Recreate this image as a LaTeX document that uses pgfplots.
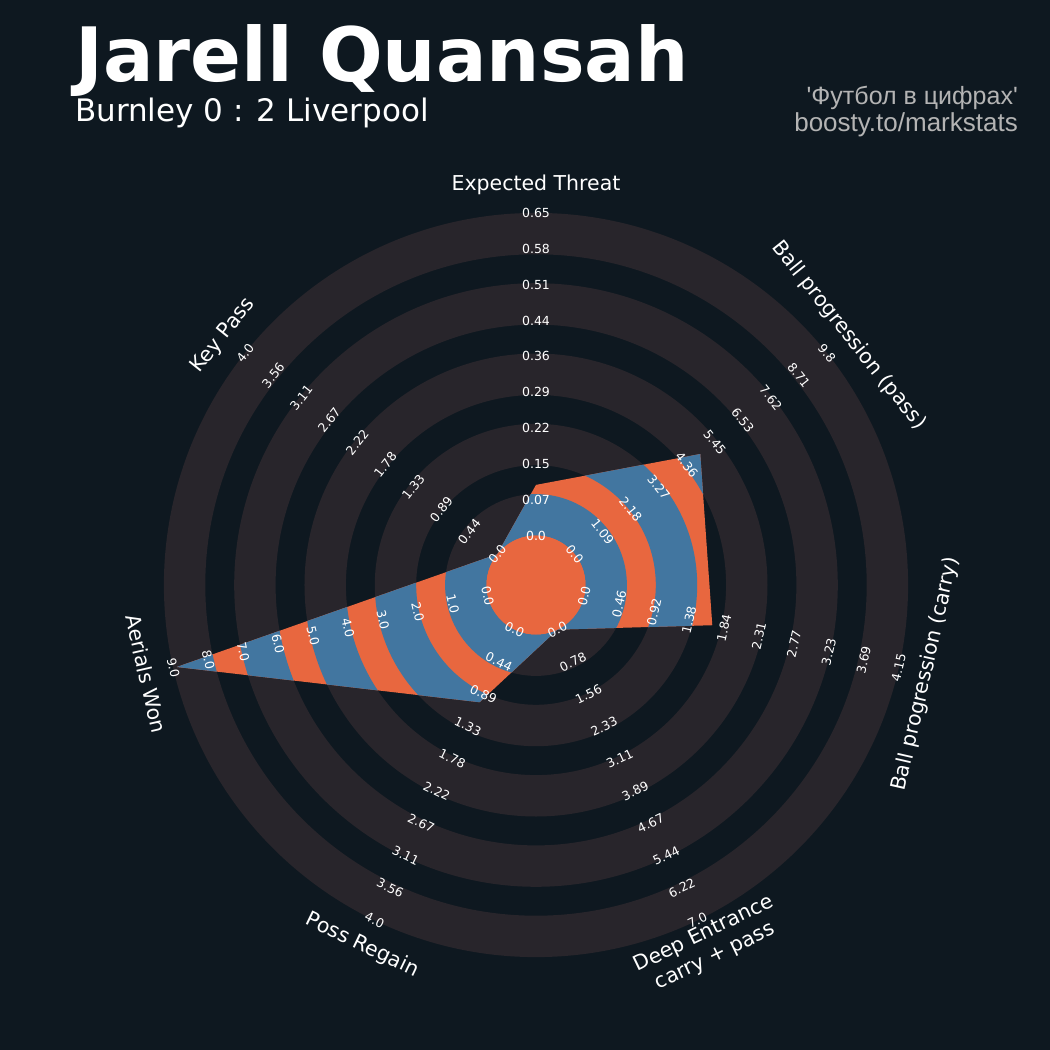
\documentclass[border=0pt]{standalone}
\usepackage{pgfplots}
\pgfplotsset{compat=1.18}
\usepackage{pgfplotstable}
\usepackage{fontspec}
\setmainfont{DejaVu Sans}
\newfontfamily\robo{Liberation Sans}
\definecolor{bgC}{HTML}{0E1820}
\definecolor{ringC}{HTML}{28252B}
\definecolor{orC}{HTML}{E8673F}
\definecolor{blC}{HTML}{4276A0}
\definecolor{grC}{HTML}{B4B4B4}

% angle (deg), value, range max (range min = 0)
\pgfplotstableread{
ang val hi
90 0.102 0.65
38.5714 4.88 9.8
-12.8571 1.69 4.15
-64.2857 0 7.0
-115.7143 1.0 4.0
-167.1429 8.9 9.0
-218.5714 0 4.0
}\radar

\pgfplotsset{radaraxis/.style={at={(0,0)}, anchor=origin, x=1pt, y=1pt, hide axis,
  xmin=-536, xmax=514, ymin=-465, ymax=585, clip=false, enlargelimits=false}}
\newcommand\radarplot[1]{%
\addplot[fill=#1, draw=none, mark=none]
  table[x expr={(49.5+\thisrow{val}/\thisrow{hi}*322.5)*cos(\thisrow{ang})},
        y expr={(49.5+\thisrow{val}/\thisrow{hi}*322.5)*sin(\thisrow{ang})}] {\radar};}
\newcommand\band[2]{(#2pt,0pt) arc[start angle=0,end angle=360,radius=#2pt] (#1pt,0pt) arc[start angle=0,end angle=-360,radius=#1pt]}

\begin{document}
\begin{tikzpicture}[x=1pt,y=1pt]
\fill[bgC] (-536,-465) rectangle (514,585);
\fill[ringC] \band{330.7}{372.1} \band{260.4}{301.8} \band{190.1}{231.5} \band{119.8}{161.2} \band{49.5}{90.9};
\begin{axis}[radaraxis]
\radarplot{orC}
\end{axis}
\begin{scope}
\clip \band{330.7}{372.1} \band{260.4}{301.8} \band{190.1}{231.5} \band{119.8}{161.2} \band{49.5}{90.9};
\begin{axis}[radaraxis]
\radarplot{blC}
\end{axis}
\end{scope}
\fill[orC] (0,0) circle[radius=49.5pt];

\foreach \ang/\rot/\labs in {
  90/0/{0.0,0.07,0.15,0.22,0.29,0.36,0.44,0.51,0.58,0.65},
  38.5714/-51.4286/{0.0,1.09,2.18,3.27,4.36,5.45,6.53,7.62,8.71,9.8},
  -12.8571/77.1429/{0.0,0.46,0.92,1.38,1.84,2.31,2.77,3.23,3.69,4.15},
  -64.2857/25.7143/{0.0,0.78,1.56,2.33,3.11,3.89,4.67,5.44,6.22,7.0},
  -115.7143/-25.7143/{0.0,0.44,0.89,1.33,1.78,2.22,2.67,3.11,3.56,4.0},
  -167.1429/-77.1429/{0.0,1.0,2.0,3.0,4.0,5.0,6.0,7.0,8.0,9.0},
  141.4286/51.4286/{0.0,0.44,0.89,1.33,1.78,2.22,2.67,3.11,3.56,4.0}}{
  \foreach \t [count=\i from 0] in \labs {
    \node[rotate=\rot, inner sep=0pt, text=white, font=\fontsize{12.5}{15}\selectfont]
      at (\ang:{49.5+\i*35.8333}) {\t};
  }
}

\tikzset{plab/.style={inner sep=0pt, text=white, font=\fontsize{20.5}{25}\selectfont}}
\node[plab, rotate=0] at (90:400) {Expected Threat};
\node[plab, rotate=-51.4286] at (38.5714:400) {Ball progression (pass)};
\node[plab, rotate=77.1429] at (-12.8571:400) {Ball progression (carry)};
\node[plab, rotate=25.7143, align=center] at (-64.2857:400) {Deep Entrance\\carry + pass};
\node[plab, rotate=-25.7143] at (-115.7143:400) {Poss Regain};
\node[plab, rotate=-77.1429] at (-167.1429:400) {Aerials Won};
\node[plab, rotate=51.4286] at (141.4286:400) {Key Pass};

\node[anchor=base west, inner sep=0pt, text=white, font=\fontsize{75}{90}\selectfont\bfseries] at (-461,503) {Jarell Quansah};
\node[anchor=base west, inner sep=0pt, text=white, font=\fontsize{31}{37}\selectfont] at (-461,463) {Burnley 0 : 2 Liverpool};
\node[anchor=base east, inner sep=0pt, text=grC, font=\robo\fontsize{25}{30}\selectfont] at (482,480) {\textquotesingle Футбол в цифрах\textquotesingle};
\node[anchor=base east, inner sep=0pt, text=grC, font=\robo\fontsize{26}{31}\selectfont] at (482,453) {boosty.to/markstats};
\end{tikzpicture}
\end{document}
